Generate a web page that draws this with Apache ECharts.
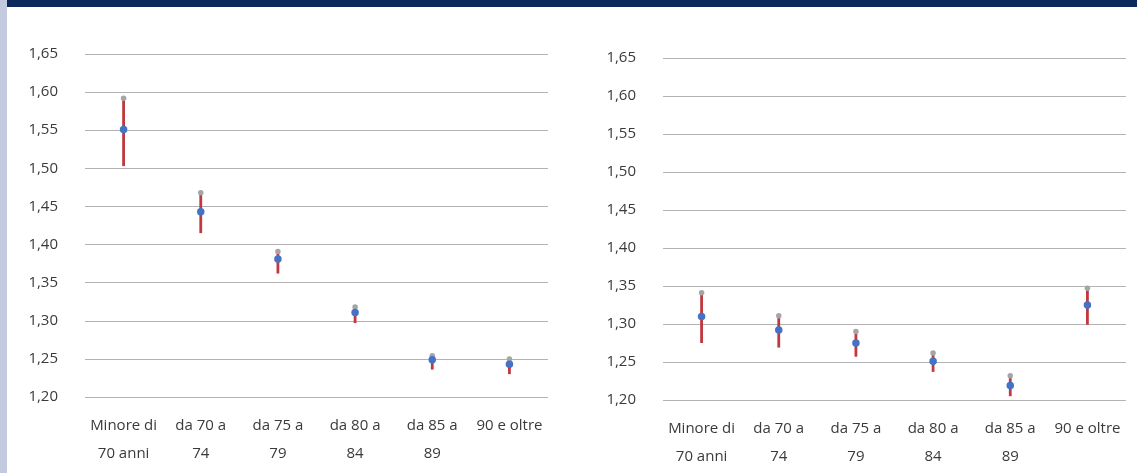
<!DOCTYPE html>
<html>
<head>
<meta charset="utf-8">
<script src="https://cdn.jsdelivr.net/npm/echarts@6/dist/echarts.min.js"></script>
<style>
html,body{margin:0;padding:0;background:#fff;}
#wrap{position:relative;width:1137px;height:473px;overflow:hidden;}
#strip{position:absolute;left:0;top:0;width:7px;height:473px;background:#C3C9DF;}
#bar{position:absolute;left:7px;top:0;width:1130px;height:7px;background:#0B2A5B;}
#chart{position:absolute;left:0;top:0;width:1137px;height:473px;}
</style>
</head>
<body>
<div id="wrap"><div id="chart"></div><div id="strip"></div><div id="bar"></div></div>
<script>
const categories = ['Minore di\n70 anni', 'da 70 a\n74', 'da 75 a\n79', 'da 80 a\n84', 'da 85 a\n89', '90 e oltre'];
const leftMean  = [1.551, 1.443, 1.381, 1.311, 1.249, 1.243];
const leftHigh  = [1.592, 1.468, 1.391, 1.318, 1.254, 1.250];
const leftLow   = [1.503, 1.415, 1.362, 1.297, 1.236, 1.230];
const rightMean = [1.310, 1.292, 1.275, 1.251, 1.219, 1.325];
const rightHigh = [1.341, 1.311, 1.290, 1.262, 1.232, 1.347];
const rightLow  = [1.275, 1.269, 1.257, 1.237, 1.205, 1.299];
const yTicks = {min: 1.20, max: 1.65, interval: 0.05};

const chart = echarts.init(document.getElementById('chart'), null, {renderer: 'canvas'});
const font = '"Open Sans", "Noto Sans", sans-serif';

function yAxis(i) {
  return {
    type: 'value', gridIndex: i, min: yTicks.min, max: yTicks.max, interval: yTicks.interval,
    axisLine: {show: false}, axisTick: {show: false},
    axisLabel: {margin: 27, color: '#3A3A3A', fontSize: 15, fontFamily: font,
      formatter: v => v.toFixed(2).replace('.', ',')},
    splitLine: {lineStyle: {color: '#B3B3B3', width: 1}}
  };
}
function xAxis(i) {
  return {
    type: 'category', gridIndex: i, data: categories,
    axisLine: {show: false}, axisTick: {show: false},
    axisLabel: {margin: 15, color: '#3A3A3A', fontSize: 15, fontFamily: font, lineHeight: 28, interval: 0}
  };
}
function errSeries(i, high, low) {
  return {
    type: 'custom', xAxisIndex: i, yAxisIndex: i, z: 2,
    data: high.map((h, k) => [k, low[k], h]),
    renderItem: function (params, api) {
      const p1 = api.coord([api.value(0), api.value(1)]);
      const p2 = api.coord([api.value(0), api.value(2)]);
      return {type: 'line', shape: {x1: p1[0], y1: p1[1], x2: p2[0], y2: p2[1]},
        style: {stroke: '#C0393F', lineWidth: 2.8}};
    }
  };
}
function dotSeries(i, vals, color, size, z) {
  return {type: 'scatter', xAxisIndex: i, yAxisIndex: i, data: vals, symbol: 'circle',
    symbolSize: size, itemStyle: {color: color, opacity: 1}, z: z, silent: true};
}

chart.setOption({
  animation: false,
  grid: [
    {left: 85, right: 589, top: 54, bottom: 76},
    {left: 663, right: 11, top: 58, bottom: 73}
  ],
  xAxis: [xAxis(0), xAxis(1)],
  yAxis: [yAxis(0), yAxis(1)],
  series: [
    errSeries(0, leftHigh, leftLow),
    dotSeries(0, leftHigh, '#A5A5A5', 5.5, 3),
    dotSeries(0, leftMean, '#4472C4', 7.5, 4),
    errSeries(1, rightHigh, rightLow),
    dotSeries(1, rightHigh, '#A5A5A5', 5.5, 3),
    dotSeries(1, rightMean, '#4472C4', 7.5, 4)
  ]
});
</script>
</body>
</html>
